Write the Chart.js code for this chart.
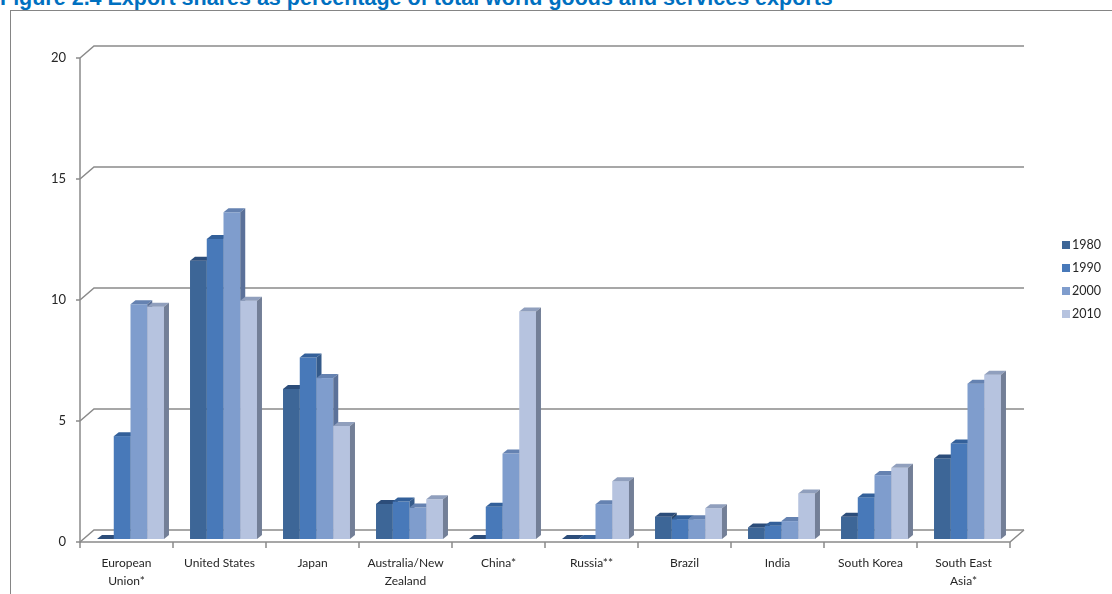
<!DOCTYPE html>
<html>
<head>
<meta charset="utf-8">
<script src="https://cdn.jsdelivr.net/npm/chart.js"></script>
<style>
  html, body { margin: 0; padding: 0; background: #fff; overflow: hidden; }
  #wrap { position: relative; width: 1112px; height: 594px; overflow: hidden; }
  #title { position: absolute; left: 0; top: -12px; font: bold 21.5px 'Liberation Sans', Arial, sans-serif; line-height: 21px; color: rgb(0, 112, 192); white-space: nowrap; }
  #frame { position: absolute; left: 10px; top: 10px; width: 1110px; height: 600px; border-left: 1px solid #858585; border-top: 1px solid #858585; }
  #chart { position: absolute; left: 0; top: 0; }
  #legend { position: absolute; left: 1062px; top: 237px; font: 12.5px Lato, sans-serif; color: #262626; }
  #legend div { height: 23px; line-height: 16px; white-space: nowrap; }
  #legend span { display: inline-block; width: 8px; height: 8px; margin-right: 2px; vertical-align: 0px; }
</style>
</head>
<body>
<div id="wrap">
  <div id="title">Figure 2.4 Export shares as percentage of total world goods and services exports</div>
  <div id="frame"></div>
  <canvas id="chart" width="1112" height="594"></canvas>
  <div id="legend"></div>
</div>
<script>
// data (% of world exports)
const categories = [['European', 'Union*'], 'United States', 'Japan', ['Australia/New', 'Zealand'], 'China*', 'Russia**', 'Brazil', 'India', 'South Korea', ['South East', 'Asia*']];
const years = ['1980', '1990', '2000', '2010'];
const share1980 = [0, 11.5, 6.2, 1.45, 0, 0, 0.92, 0.48, 0.92, 3.33];
const share1990 = [4.25, 12.4, 7.5, 1.55, 1.33, 0, 0.82, 0.55, 1.72, 3.95];
const share2000 = [9.7, 13.5, 6.65, 1.3, 3.53, 1.44, 0.82, 0.74, 2.64, 6.42];
const share2010 = [9.6, 9.85, 4.67, 1.64, 9.4, 2.39, 1.27, 1.88, 2.94, 6.79];
const yTicks = [0, 5, 10, 15, 20];

const series = [share1980, share1990, share2000, share2010];
const frontColors = ['#3d6697', '#4879b9', '#7f9dcd', '#b6c3df'];
const topColors = ['#2c4d7a', '#33609a', '#6582b1', '#909fbd'];
const sideColors = ['#2a4669', '#345a8a', '#5b7199', '#737f97'];

// fake 3D: back wall offset and bar depth
const WALL_DX = 14, WALL_DY = 12;
const BAR_DX = 5, BAR_DY = 4;
const BAR_SHIFT_X = 4, BAR_SHIFT_Y = -3;
const lineColor = '#8a8a8a';

const wall3d = {
  id: 'wall3d',
  beforeDatasetsDraw(chart) {
    const c = chart.ctx;
    const { left, right, bottom } = chart.chartArea;
    const y = chart.scales.y;
    const x = chart.scales.x;
    c.save();
    c.strokeStyle = lineColor;
    c.lineWidth = 1.5;
    // back wall gridlines with the left-wall diagonal
    yTicks.forEach(v => {
      const py = y.getPixelForValue(v);
      c.beginPath();
      c.moveTo(left, py);
      c.lineTo(left + WALL_DX, py - WALL_DY);
      c.lineTo(right + WALL_DX, py - WALL_DY);
      c.stroke();
      // small tick on the front axis
      c.beginPath();
      c.moveTo(left - 4, py);
      c.lineTo(left, py);
      c.stroke();
    });
    // floor front edge and right diagonal
    c.beginPath();
    c.moveTo(left, bottom);
    c.lineTo(right, bottom);
    c.lineTo(right + WALL_DX, bottom - WALL_DY);
    c.stroke();
    // front value axis
    c.beginPath();
    c.moveTo(left, y.getPixelForValue(20));
    c.lineTo(left, bottom + 1);
    c.stroke();
    // category tick marks
    const step = x.getPixelForValue(1) - x.getPixelForValue(0);
    for (let i = 0; i <= categories.length; i++) {
      const px = left + step * i;
      c.beginPath();
      c.moveTo(px, bottom);
      c.lineTo(px, bottom + 6);
      c.stroke();
    }
    // bars: draw dataset by dataset, left to right inside each group
    chart.data.datasets.forEach((ds, di) => {
      const meta = chart.getDatasetMeta(di);
      meta.data.forEach(el => {
        const p = el.getProps(['x', 'y', 'base', 'width'], true);
        const x0 = p.x - p.width / 2 + BAR_SHIFT_X;
        const x1 = p.x + p.width / 2 + BAR_SHIFT_X;
        const top = p.y + BAR_SHIFT_Y;
        const bot = p.base + BAR_SHIFT_Y;
        c.fillStyle = frontColors[di];
        c.fillRect(x0, top, x1 - x0, bot - top);
        c.fillStyle = topColors[di];
        c.beginPath();
        c.moveTo(x0, top);
        c.lineTo(x0 + BAR_DX, top - BAR_DY);
        c.lineTo(x1 + BAR_DX, top - BAR_DY);
        c.lineTo(x1, top);
        c.closePath();
        c.fill();
        c.fillStyle = sideColors[di];
        c.beginPath();
        c.moveTo(x1, top);
        c.lineTo(x1 + BAR_DX, top - BAR_DY);
        c.lineTo(x1 + BAR_DX, bot - BAR_DY);
        c.lineTo(x1, bot);
        c.closePath();
        c.fill();
      });
    });
    c.restore();
    return false;
  }
};

const ctx = document.getElementById('chart').getContext('2d');
new Chart(ctx, {
  type: 'bar',
  data: {
    labels: categories,
    datasets: years.map((yr, i) => ({
      label: yr,
      data: series[i],
      backgroundColor: frontColors[i],
      categoryPercentage: 0.72,
      barPercentage: 1.0
    }))
  },
  options: {
    responsive: false,
    animation: false,
    devicePixelRatio: 1,
    layout: { padding: { top: 58, right: 102, left: 0, bottom: 0 } },
    plugins: { legend: { display: false }, tooltip: { enabled: false } },
    scales: {
      x: {
        grid: { display: false, drawTicks: false },
        border: { display: false },
        ticks: { padding: 12, maxRotation: 0, autoSkip: false, color: '#262626', font: { family: 'Lato', size: 12, lineHeight: 1.5 } },
        afterFit: s => { s.height = 52; }
      },
      y: {
        min: 0,
        max: 20,
        grid: { display: false, drawTicks: false },
        border: { display: false },
        ticks: { stepSize: 5, padding: 14, color: '#262626', font: { family: 'Lato', size: 13 } },
        afterFit: s => { s.width = 80; }
      }
    }
  },
  plugins: [wall3d]
});

// legend
const legendEl = document.getElementById('legend');
years.forEach((yr, i) => {
  const row = document.createElement('div');
  const sw = document.createElement('span');
  sw.style.background = frontColors[i];
  row.appendChild(sw);
  row.appendChild(document.createTextNode(yr));
  legendEl.appendChild(row);
});
</script>
</body>
</html>
